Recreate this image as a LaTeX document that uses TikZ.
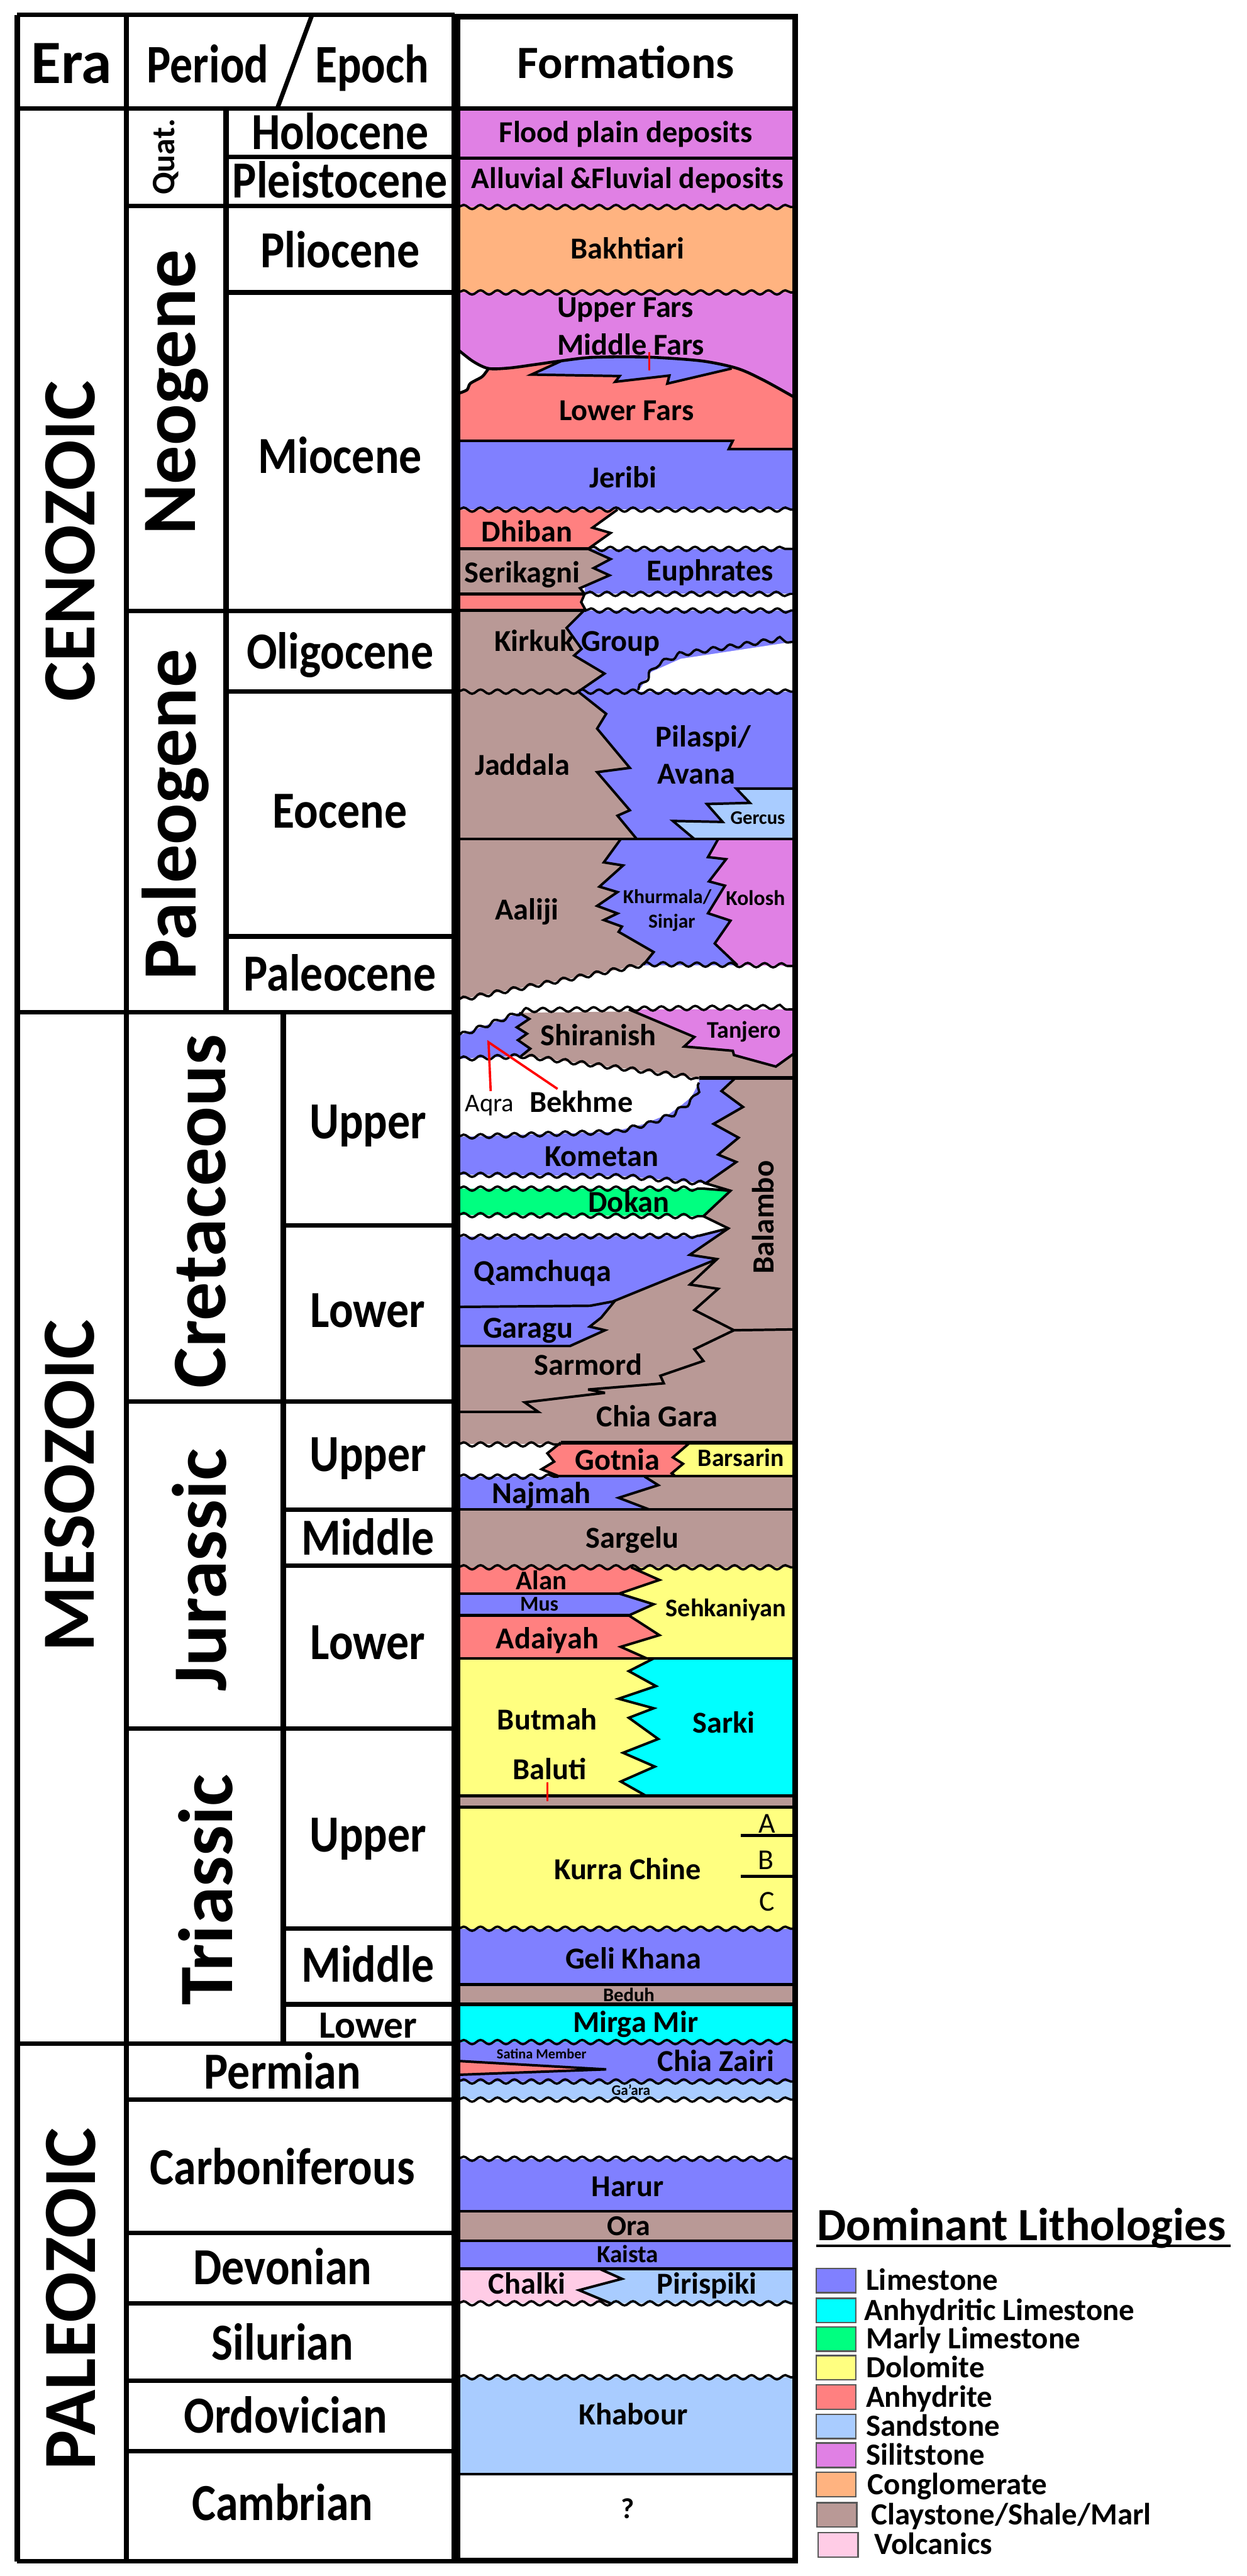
\documentclass[tikz,border=0pt]{standalone}
\usepackage{fontspec}
\setmainfont{Carlito}
\usetikzlibrary{decorations.pathmorphing}
\definecolor{cLime}{RGB}{128,128,255}
\definecolor{cAnhL}{RGB}{0,255,255}
\definecolor{cMarl}{RGB}{0,255,128}
\definecolor{cDolo}{RGB}{255,255,128}
\definecolor{cAnhy}{RGB}{255,128,128}
\definecolor{cSand}{RGB}{169,204,255}
\definecolor{cSilt}{RGB}{224,128,228}
\definecolor{cCong}{RGB}{255,179,128}
\definecolor{cClay}{RGB}{185,153,150}
\definecolor{cVolc}{RGB}{255,204,230}
\newcommand{\fsz}[1]{\fontsize{#1}{#1}\selectfont}
\newcommand{\talltxt}[1]{\scalebox{1}[1.15]{#1}}
\tikzset{
  lb/.style={anchor=base, inner sep=0pt, font=\fsz{#1}\bfseries, yshift={-0.316*#1pt}},
  lb/.default=15.8,
  lr/.style={anchor=base, inner sep=0pt, font=\fsz{#1}, yshift={-0.316*#1pt}},
  tb/.style={anchor=base, inner sep=0pt, font=\fsz{#1}\bfseries, yshift={-0.3634*#1pt}},
  tb/.default=23.5,
  rt/.style={rotate=90, inner sep=0pt, font=\fsz{#1}\bfseries},
  lgt/.style={anchor=base west, inner sep=0pt, font=\fsz{16}\bfseries, yshift=-5.06pt},
  tabh/.style={line width=2.3pt},
  tabv/.style={line width=2.8pt},
  ln/.style={line width=1.5pt, line join=round},
  zz/.style={line width=1.3pt, line join=miter, miter limit=6},
  wv/.style={line width=1.2pt, decorate, decoration={snake, amplitude=1.1pt, segment length=8.8pt}},
  redl/.style={red, line width=1.2pt},
  swatch/.style={draw=black!65, line width=0.8pt},
}
\begin{document}
\begin{tikzpicture}[x=0.03cm,y=-0.03cm]
\useasboundingbox (0,0) rectangle (759,1568);
\fill[white] (0,0) rectangle (759,1568);

%%%%%%%%%%%%%%%% FORMATION FILLS %%%%%%%%%%%%%%%%
\fill[cSilt] (279,66) rectangle (483,126);
\fill[cCong] (279,126) rectangle (483,178);
\fill[cLime] (279,260) rectangle (483,310.2);
\fill[cAnhy] (279,205) -- (483,205) -- (483,273.4) -- (443.6,273.4) -- (446.1,268.3) -- (279,268.3) -- cycle;
\fill[cLime] (323.5,228) -- (342,219.6) -- (342,214) -- (446,214) -- (445.4,224.3) -- (406.2,233.5) -- (407.5,228.6) -- (374.5,232.4) -- (377.2,228.9) -- cycle;
\fill[cSilt] (279,178) -- (483,178) -- (483,241.5) -- plot[smooth,tension=0.5] coordinates {(483,241.5) (465,231.5) (449,224.3) (428,219.8) (400,217.6) (380,217.2) (359,217.6) (342,219.6) (325,222) (310,224) (297.4,224.3) (288,220) (279,213)} -- cycle;
\fill[white] (279,213) -- (288,220) -- (297.4,224.3) -- (296,226.3) -- (293.2,229.5) -- (286.3,233.4) -- (284.3,237.3) -- (279,239.5) -- cycle;
% Dhiban / Serikagni / Euphrates
\fill[cAnhy] (279,310.2) -- (375.9,310.2) -- (360.7,321.2) -- (371.7,324.4) -- (358,334.1) -- (279,334.1) -- cycle;
\fill[cLime] (356,334.1) rectangle (483,361.5);
\fill[cClay] (279,334.1) -- (358,334.1) -- (371.7,340.3) -- (361.4,345.8) -- (371,350.2) -- (353.1,358) -- (355.9,361.5) -- (279,361.5) -- cycle;
\fill[cAnhy] (279,361.5) -- (355.9,361.5) -- (353.8,366.5) -- (356.6,371.6) -- (279,371.6) -- cycle;
% Kirkuk
\fill[cClay] (279,371.6) rectangle (483,421);
\fill[cLime] (355.5,371.6) -- (483,371.6) -- (483,421) -- (352,421) -- (368,410) -- (349.5,399) -- (354,395) -- (344.9,382.2) -- cycle;
\fill[white] (388.5,421) -- (396.5,409) -- (414.4,401) -- (483,390.6) -- (483,421) -- cycle;
% Jaddala / Pilaspi / Gercus
\fill[cClay] (279,421) rectangle (483,510.7);
\fill[cLime] (352,421) -- (483,421) -- (483,510.7) -- (387.6,510.7) -- (375.9,496.5) -- (383.4,493.2) -- (363.5,470) -- (383.4,467.4) -- (363.5,443.5) -- (369,434.5) -- cycle;
\fill[cSand] (448.2,480) -- (483,480) -- (483,510.7) -- (422.7,510.7) -- (409.6,499.7) -- (439.9,500.3) -- (430.3,489.4) -- (456.5,488.7) -- cycle;
% Aaliji / Khurmala / Kolosh
\fill[cLime] (360,510.7) rectangle (450,587.5);
\fill[cClay] (279,510.7) -- (377.9,510.7) -- (367.6,524.9) -- (379.3,526.8) -- (364.9,539.7) -- (375.9,543) -- (363.5,551.4) -- (375.9,556) -- (367.6,560) -- (378.6,564) -- (376.6,567.2) -- (397.9,579.5) -- (391.7,587.2) -- (279,608.6) -- cycle;
\fill[cSilt] (437.2,510.7) -- (483,510.7) -- (483,588) -- (448.9,587.5) -- (435.1,574.3) -- (444.7,560.4) -- (431,555.9) -- (441.3,539.1) -- (431.6,536.5) -- (442,523) -- (431,521.7) -- cycle;
% Shiranish / Aqra / Tanjero
\fill[cClay] (279,630.5) -- (316,616.5) -- (483,614.4) -- (483,656.3) -- (425.5,656.3) -- (400,653) -- (360,648) -- (318,642.8) -- (279,644.5) -- cycle;
\fill[cLime] (279,630.5) -- (316,616.5) -- (322.2,620.2) -- (314.6,625.3) -- (320.8,629.2) -- (315.3,633.1) -- (322.8,638.3) -- (317,643) -- (279,644.5) -- cycle;
\fill[cSilt] (382.8,614.4) -- (483,614.4) -- (483,641.5) -- (472.3,649.2) -- (446.8,642.2) -- (446.1,639.6) -- (416.5,637) -- (422.7,631.2) -- cycle;
% Balambo background and Cretaceous units
\fill[cClay] (279,656.3) rectangle (483,918.8);
\fill[white] (279,644.5) -- (318,642.8) -- (360,648) -- (400,653) -- (425.5,656.3) -- (425.5,659) -- (421,667.7) -- (414.4,673.1) -- (407.5,678) -- (391,684.5) -- (373,689) -- (279,692) -- cycle;
\fill[cLime] (279,692) -- (373,689) -- (391,684.5) -- (407.5,678) -- (414.4,673.1) -- (421,667.7) -- (425.5,659) -- (425.5,656.3) -- (447.5,656.3) -- (439.2,664.1) -- (452.3,673.8) -- (434.4,684.1) -- (449.6,692.5) -- (437.2,702.8) -- (448.2,707.3) -- (429.6,720.3) -- (380,716) -- (279,715) -- cycle;
\fill[white] (279,715) -- (380,716) -- (429.6,720.3) -- (444.7,724.8) -- (428,723.5) -- (279,723.5) -- cycle;
\fill[cMarl] (279,723.5) -- (428,723.5) -- (444.7,724.8) -- (428.2,740.3) -- (279,739.6) -- cycle;
\fill[white] (279,739.6) -- (428.2,740.3) -- (443.4,747.7) -- (425.5,752.2) -- (279,752.8) -- cycle;
\fill[cLime] (279,752.8) -- (425.5,752.2) -- (443.4,747.7) -- (419.9,763.8) -- (436.5,766.4) -- (373.1,792.2) -- (359.3,794.8) -- (279,795.5) -- cycle;
\fill[cLime] (279,795.5) -- (359.3,794.8) -- (374.5,791.6) -- (366,802) -- (359,807.5) -- (368.3,809.7) -- (347,819.3) -- (279,819.3) -- cycle;
% Gotnia / Barsarin / Najmah
\fill[white] (279,879) rectangle (345,898.8);
\fill[cAnhy] (341.4,878.1) -- (420,878.1) -- (409.6,887.1) -- (415.8,891) -- (408.9,896.8) -- (411,898.5) -- (340,898.5) -- (329.7,894.3) -- (337.3,889.7) -- (333.2,884.6) -- cycle;
\fill[cDolo] (420,878.1) -- (483,878.1) -- (483,898.5) -- (411,898.5) -- (408.9,896.8) -- (415.8,891) -- (409.6,887.1) -- cycle;
\fill[cLime] (279,898.8) -- (392.4,898.8) -- (400.7,904) -- (376.6,911.7) -- (395.2,918.8) -- (279,918.8) -- cycle;
\fill[cClay] (279,918.8) rectangle (483,954);
% Alan / Mus / Adaiyah / Sehkaniyan
\fill[cDolo] (279,954) rectangle (483,1009.5);
\fill[cAnhy] (279,954) -- (384.1,954) -- (401.4,961.7) -- (377,970) -- (279,970) -- cycle;
\fill[cLime] (279,970) -- (377,970) -- (397.9,976.5) -- (382.8,983.3) -- (279,983.3) -- cycle;
\fill[cAnhy] (279,983.3) -- (382.8,983.3) -- (401.4,995.3) -- (377.9,1002.4) -- (393.8,1009.5) -- (279,1009.5) -- cycle;
% Butmah / Sarki
\fill[cDolo] (279,1009.5) rectangle (483,1093);
\fill[cAnhL] (397.9,1009.5) -- (483,1009.5) -- (483,1093) -- (393.1,1093) -- (377.9,1084.4) -- (398.6,1075.3) -- (379.3,1066.9) -- (400.7,1058.5) -- (382.8,1045.6) -- (397.9,1039.8) -- (376.6,1034) -- (399.3,1026.3) -- (382.8,1017.2) -- cycle;
\fill[cClay] (279,1093) rectangle (483,1100);
% Triassic and Paleozoic
\fill[cDolo] (279,1100) rectangle (483,1174);
\fill[cLime] (279,1174) rectangle (483,1208);
\fill[cClay] (279,1208) rectangle (483,1220);
\fill[cAnhL] (279,1220) rectangle (483,1243);
\fill[cLime] (279,1243) rectangle (483,1267);
\fill[cAnhy] (279,1254.5) -- (369,1259.6) -- (279,1262.9) -- cycle;
\fill[cSand] (279,1267) rectangle (483,1278);
\fill[cLime] (279,1314) rectangle (483,1346);
\fill[cClay] (279,1346) rectangle (483,1364);
\fill[cLime] (279,1364) rectangle (483,1381);
\fill[cVolc] (279,1381) rectangle (483,1402);
\fill[cSand] (364.9,1381) -- (483,1381) -- (483,1402) -- (371.7,1402) -- (352.5,1394) -- (378.6,1387.1) -- cycle;
\fill[cSand] (279,1447) rectangle (483,1506);

%%%%%%%%%%%%%%%% FORMATION LINES %%%%%%%%%%%%%%%%
\draw[line width=2.4pt] (279,66) -- (483,66);
\draw[ln] (279,96.2) -- (483,96.2);
\draw[wv] (279,126) -- (483,126);
\draw[wv] (279,178) -- (483,178);
\draw[ln] plot[smooth,tension=0.5] coordinates {(483,241.5) (465,231.5) (449,224.3) (428,219.8) (400,217.6) (380,217.2) (359,217.6) (342,219.6) (325,222) (310,224) (297.4,224.3) (288,220) (279,213)};
\draw[zz] (342,219.6) -- (323.5,228) -- (377.2,228.9) -- (374.5,232.4) -- (407.5,228.6) -- (406.2,233.5) -- (445.4,224.3);
\draw[ln] plot[smooth] coordinates {(297.4,224.3) (296,226.3) (293.2,229.5) (286.3,233.4) (284.3,237.3) (279,239.5)};
\draw[zz] (279,268.3) -- (446.1,268.3) -- (443.6,273.4) -- (483,273.4);
\draw[redl] (395.2,214.2) -- (395.2,225.5);
\draw[wv] (279,310.2) -- (483,310.2);
\draw[zz] (375.9,310.2) -- (360.7,321.2) -- (371.7,324.4) -- (358,334.1) -- (371.7,340.3) -- (361.4,345.8) -- (371,350.2) -- (353.1,358) -- (355.9,361.5) -- (353.8,366.5) -- (356.6,371.6);
\draw[ln] (279,334.1) -- (358,334.1);
\draw[ln] (279,361.5) -- (355.9,361.5);
\draw[ln] (279,371.6) -- (356.6,371.6);
\draw[wv] (358,334.1) -- (483,334.1);
\draw[wv] (355.9,361.5) -- (483,361.5);
\draw[wv] (356.6,371.6) -- (483,371.6);
\draw[zz] (355.5,371.6) -- (344.9,382.2) -- (354,395) -- (349.5,399) -- (368,410) -- (352,421);
\draw[wv] (388.5,420) -- (396.5,409) -- (414.4,401) -- (483,390.6);
\draw[wv] (279,421) -- (483,421);
\draw[zz] (352,421) -- (369,434.5) -- (363.5,443.5) -- (383.4,467.4) -- (363.5,470) -- (383.4,493.2) -- (375.9,496.5) -- (387.6,510.7);
\draw[zz] (483,480) -- (448.2,480) -- (456.5,488.7) -- (430.3,489.4) -- (439.9,500.3) -- (409.6,499.7) -- (422.7,510.7);
\draw[ln] (279,510.7) -- (483,510.7);
\draw[zz] (377.9,510.7) -- (367.6,524.9) -- (379.3,526.8) -- (364.9,539.7) -- (375.9,543) -- (363.5,551.4) -- (375.9,556) -- (367.6,560) -- (378.6,564) -- (376.6,567.2) -- (397.9,579.5) -- (391.7,587.2);
\draw[zz] (437.2,510.7) -- (431,521.7) -- (442,523) -- (431.6,536.5) -- (441.3,539.1) -- (431,555.9) -- (444.7,560.4) -- (435.1,574.3) -- (448.9,587.5);
\draw[wv] (279,608.6) -- (391.7,587.2) -- (483,588);
\draw[zz] (316,616.5) -- (322.2,620.2) -- (314.6,625.3) -- (320.8,629.2) -- (315.3,633.1) -- (322.8,638.3) -- (317,643);
\draw[zz] (382.8,614.4) -- (422.7,631.2) -- (416.5,637) -- (446.1,639.6) -- (446.8,642.2) -- (472.3,649.2) -- (483,641.5);
\draw[wv] (279,630.5) -- (316,616.5) -- (483,614.4);
\draw[wv] (279,644.5) -- (318,642.8) -- (360,648) -- (400,653) -- (425.5,656.3);
\draw[line width=2pt] (425.5,656.3) -- (483,656.3);
\draw[zz] (447.5,656.3) -- (439.2,664.1) -- (452.3,673.8) -- (434.4,684.1) -- (449.6,692.5) -- (437.2,702.8) -- (448.2,707.3) -- (429.6,720.3) -- (444.7,724.8) -- (428.2,740.3) -- (443.4,747.7) -- (419.9,763.8) -- (436.5,766.4) -- (420,781.9) -- (437.2,784.5) -- (422.7,797.4) -- (446.8,809.7) -- (483,809.2);
\draw[wv] (279,692) -- (373,689) -- (391,684.5) -- (407.5,678) -- (414.4,673.1) -- (421,667.7) -- (425.5,659);
\draw[wv] (279,715) -- (380,716) -- (429.6,720.3);
\draw[wv] (279,723.5) -- (428,723.5);
\draw[zz] (428,723.5) -- (444.7,724.8);
\draw[wv] (279,739.6) -- (428.2,740.3);
\draw[wv] (279,752.8) -- (425.5,752.2);
\draw[zz] (425.5,752.2) -- (443.4,747.7);
\draw[zz] (436.5,766.4) -- (373.1,792.2) -- (359.3,794.8) -- (279,795.5);
\draw[zz] (374.5,791.6) -- (366,802) -- (359,807.5) -- (368.3,809.7) -- (347,819.3) -- (279,819.3);
\draw[zz] (446.8,809.7) -- (422.7,821.3) -- (428.2,828.4) -- (402,837.4) -- (404.1,842) -- (358,845.8) -- (368.3,847.8) -- (319.4,853.6) -- (327.7,859.4) -- (279,859.4);
\draw[line width=2pt] (341.4,878.1) -- (483,878.1);
\draw[wv] (279,879.2) -- (341.4,879.2);
\draw[zz] (341.4,878.1) -- (333.2,884.6) -- (337.3,889.7) -- (329.7,894.3) -- (340,898.5);
\draw[zz] (420,878.1) -- (409.6,887.1) -- (415.8,891) -- (408.9,896.8) -- (411,898.5);
\draw[wv] (279,898.8) -- (340,898.8);
\draw[ln] (340,898.5) -- (483,898.5);
\draw[zz] (392.4,898.8) -- (400.7,904) -- (376.6,911.7) -- (395.2,918.8);
\draw[ln] (279,918.8) -- (483,918.8);
\draw[wv] (279,954) -- (483,954);
\draw[zz] (384.1,954) -- (401.4,961.7) -- (377,970) -- (397.9,976.5) -- (382.8,983.3) -- (401.4,995.3) -- (377.9,1002.4) -- (393.8,1009.5);
\draw[ln] (279,970) -- (377,970);
\draw[ln] (279,983.3) -- (382.8,983.3);
\draw[ln] (279,1009.5) -- (483,1009.5);
\draw[zz] (397.9,1009.5) -- (382.8,1017.2) -- (399.3,1026.3) -- (376.6,1034) -- (397.9,1039.8) -- (382.8,1045.6) -- (400.7,1058.5) -- (379.3,1066.9) -- (398.6,1075.3) -- (377.9,1084.4) -- (393.1,1093);
\draw[ln] (279,1093) -- (483,1093);
\draw[ln] (279,1100) -- (483,1100);
\draw[redl] (333.2,1085) -- (333.2,1096.5);
\draw[ln] (451,1117.2) -- (483,1117.2);
\draw[ln] (451,1142.1) -- (483,1142.1);
\draw[wv] (279,1174) -- (483,1174);
\draw[line width=1.8pt] (279,1208) -- (483,1208);
\draw[line width=1.8pt] (279,1220) -- (483,1220);
\draw[wv] (279,1243) -- (483,1243);
\draw[zz] (279,1254.5) -- (369,1259.6) -- (279,1262.9);
\draw[wv] (279,1267) -- (483,1267);
\draw[wv] (279,1278) -- (483,1278);
\draw[wv] (279,1314) -- (483,1314);
\draw[ln] (279,1346) -- (483,1346);
\draw[ln] (279,1364) -- (483,1364);
\draw[ln] (279,1381) -- (483,1381);
\draw[zz] (364.9,1381) -- (378.6,1387.1) -- (352.5,1394) -- (371.7,1402);
\draw[wv] (279,1402) -- (483,1402);
\draw[wv] (279,1447) -- (483,1447);
\draw[ln] (279,1506) -- (483,1506);
% red pointer lines (Aqra)
\draw[redl] (298.7,664.1) -- (297.4,634.4) -- (339.4,662.8);
% formation box
\draw[line width=3pt] (278.5,10) rectangle (484,1558.5);

%%%%%%%%%%%%%%%% LEFT TABLE %%%%%%%%%%%%%%%%
\draw[tabv] (10.5,9) -- (10.5,1559);
\draw[tabv] (77,9) -- (77,1559);
\draw[tabv] (137.6,66) -- (137.6,616);
\draw[tabv] (172.4,616) -- (172.4,1244);
\draw[tabv] (276.6,9) -- (276.6,1559);
\draw[tabh] (10.5,9) -- (276.6,9);
\draw[tabh] (10.5,66) -- (276.6,66);
\draw[tabh] (10.5,1559) -- (276.6,1559);
\draw[tabh] (10.5,616) -- (276.6,616);
\draw[tabh] (10.5,1244) -- (276.6,1244);
\draw[tabh] (77,125.5) -- (276.6,125.5);
\draw[tabh] (77,372) -- (276.6,372);
\draw[tabh] (137.6,95.6) -- (276.6,95.6);
\draw[tabh] (137.6,178) -- (276.6,178);
\draw[tabh] (137.6,421) -- (276.6,421);
\draw[tabh] (137.6,570) -- (276.6,570);
\draw[tabh] (77,853) -- (276.6,853);
\draw[tabh] (77,1052) -- (276.6,1052);
\draw[tabh] (172.4,746) -- (276.6,746);
\draw[tabh] (172.4,919) -- (276.6,919);
\draw[tabh] (172.4,953) -- (276.6,953);
\draw[tabh] (172.4,1174) -- (276.6,1174);
\draw[tabh] (172.4,1220) -- (276.6,1220);
\draw[tabh] (77,1278) -- (276.6,1278);
\draw[tabh] (77,1359) -- (276.6,1359);
\draw[tabh] (77,1402) -- (276.6,1402);
\draw[tabh] (77,1449) -- (276.6,1449);
\draw[tabh] (77,1492) -- (276.6,1492);
\draw[tabh] (168.8,66) -- (190,9);

% header texts
\node[lb=32] (hEra) at (43.5,38.7) {Era};
\node[anchor=base, inner sep=0pt, font=\fsz{23.5}\bfseries, yshift=-8.9pt] (hPer) at (126.5,40) {\scalebox{1}[1.2]{Period}};
\node[anchor=base, inner sep=0pt, font=\fsz{23.5}\bfseries, yshift=-8.9pt] (hEpo) at (226.5,40) {\scalebox{1}[1.2]{Epoch}};
\node[lb=24] (hFor) at (381,38.7) {Formations};

% eras
\node[rt=39] (eC) at (42.9,329.3) {CENOZOIC};
\node[rt=39] (eM) at (42.5,904.4) {MESOZOIC};
\node[rt=39] (eP) at (43,1399.5) {PALEOZOIC};
% periods
\node[rt=17] (pQ) at (101,95.5) {Quat.};
\node[rt=40] (pN) at (107.6,238.9) {Neogene};
\node[rt=40] (pPg) at (106.8,495.8) {Paleogene};
\node[rt=40] (pK) at (122,737.3) {Cretaceous};
\node[rt=40] (pJ) at (121.5,955.7) {Jurassic};
\node[rt=40] (pT) at (125,1150.4) {Triassic};
% epochs
\node[tb] (ep1) at (207,81) {\talltxt{Holocene}};
\node[tb] (ep2) at (207,110.5) {\talltxt{Pleistocene}};
\node[tb] (ep3) at (207,153) {\talltxt{Pliocene}};
\node[tb] (ep4) at (207,278) {\talltxt{Miocene}};
\node[tb] (ep5) at (207,397) {\talltxt{Oligocene}};
\node[tb] (ep6) at (207,494) {\talltxt{Eocene}};
\node[tb] (ep7) at (207,593) {\talltxt{Paleocene}};
\node[tb] (ep8) at (224,683) {\talltxt{Upper}};
\node[tb] (ep9) at (224,798) {\talltxt{Lower}};
\node[tb] (ep10) at (224,885.5) {\talltxt{Upper}};
\node[tb] (ep11) at (224,936.5) {\talltxt{Middle}};
\node[tb] (ep12) at (224,1000) {\talltxt{Lower}};
\node[tb] (ep13) at (224,1117) {\talltxt{Upper}};
\node[tb] (ep14) at (224,1196.5) {\talltxt{Middle}};
\node[lb=20] (ep15) at (224,1233) {Lower};
\node[tb] (ep16) at (172,1261.5) {\talltxt{Permian}};
\node[tb] (ep17) at (172,1319.5) {\talltxt{Carboniferous}};
\node[tb] (ep18) at (172,1380.5) {\talltxt{Devonian}};
\node[tb] (ep19) at (172,1426.5) {\talltxt{Silurian}};
\node[tb] (ep20) at (174,1471) {\talltxt{Ordovician}};
\node[tb] (ep21) at (172,1524) {\talltxt{Cambrian}};

%%%%%%%%%%%%%%%% FORMATION LABELS %%%%%%%%%%%%%%%%
\node[lb] (f1) at (381,80.7) {Flood plain deposits};
\node[lb=15.5] (f2) at (382,109) {Alluvial \&Fluvial deposits};
\node[lb] (f3) at (382,151.7) {Bakhtiari};
\node[lb] (f4) at (380.7,187.3) {Upper Fars};
\node[lb] (f5) at (384,210.1) {Middle Fars};
\node[lb] (f6) at (381.4,250.2) {Lower Fars};
\node[lb] (f7) at (379.3,290.9) {Jeribi};
\node[lb] (f8) at (320.8,323.8) {Dhiban};
\node[lb] (f9) at (318,349) {Serikagni};
\node[lb] (f10) at (432.3,347.7) {Euphrates};
\node[lb] (f11) at (351.4,390.6) {Kirkuk Group};
\node[lb] (f12) at (318,466.1) {Jaddala};
\node[lb] (f13) at (428.2,448.7) {Pilaspi/};
\node[lb] (f14) at (423.8,471.3) {Avana};
\node[lb=10] (f15) at (461.3,497.8) {Gercus};
\node[lb] (f16) at (320.8,553.9) {Aaliji};
\node[lb=10.3] (f17) at (406.2,546.2) {Khurmala/};
\node[lb=10.3] (f18) at (409,561) {Sinjar};
\node[lb=11] (f19) at (459.9,546.8) {Kolosh};
\node[lb] (f20) at (364.2,630.5) {Shiranish};
\node[lb=12.4] (f21) at (453,627.3) {Tanjero};
\node[lr=13.3] (f22) at (298,671.8) {Aqra};
\node[lb] (f23) at (353.8,671.2) {Bekhme};
\node[lb] (f24) at (366.2,704.1) {Kometan};
\node[lb] (f25) at (382.8,731.9) {Dokan};
\node[lb] (f26) at (330.4,774.1) {Qamchuqa};
\node[lb] (f27) at (321.5,808.4) {Garagu};
\node[lb] (f28) at (358,831) {Sarmord};
\node[lb] (f29) at (400,862.6) {Chia Gara};
\node[rt=16] (f30) at (464.7,741) {Balambo};
\node[lb] (f31) at (375.9,889.1) {Gotnia};
\node[lb=13] (f32) at (451,887.8) {Barsarin};
\node[lb] (f33) at (329.7,909.1) {Najmah};
\node[lb] (f34) at (384.8,936.5) {Sargelu};
\node[lb=14] (f35) at (329.7,962.3) {Alan};
\node[lb=11] (f36) at (328.3,976.5) {Mus};
\node[lb] (f37) at (333.2,997.8) {Adaiyah};
\node[lb=13.2] (f38) at (442,979.1) {Sehkaniyan};
\node[lb] (f39) at (333.2,1046.9) {Butmah};
\node[lb] (f40) at (334.5,1077.3) {Baluti};
\node[lb] (f41) at (440.6,1048.9) {Sarki};
\node[lr=15] (f42) at (466.8,1110.2) {A};
\node[lr=15] (f43) at (466.1,1132.5) {B};
\node[lr=15] (f44) at (466.8,1157.6) {C};
\node[lb] (f45) at (382,1138.2) {Kurra Chine};
\node[lb] (f46) at (385.5,1192.5) {Geli Khana};
\node[lb=10] (f47) at (382.8,1214.4) {Beduh};
\node[lb] (f48) at (386.9,1231.2) {Mirga Mir};
\node[lb=7.3] (f49) at (329.7,1250.6) {Satina Member};
\node[lb] (f50) at (435.8,1255.1) {Chia Zairi};
\node[lb=7.6] (f51) at (384.1,1272.6) {Ga'ara};
\node[lb] (f52) at (382,1331.2) {Harur};
\node[lb=15] (f53) at (382.8,1355.3) {Ora};
\node[lb=12.8] (f54) at (382,1372.5) {Kaista};
\node[lb] (f55) at (320.8,1390.6) {Chalki};
\node[lb] (f56) at (430.3,1390.6) {Pirispiki};
\node[lb=16] (f57) at (385.5,1469.8) {Khabour};
\node[lb=15] (f58) at (382,1527.5) {?};

%%%%%%%%%%%%%%%% LEGEND %%%%%%%%%%%%%%%%
\node[anchor=base west, inner sep=0pt, font=\fsz{24}\bfseries] (lgT) at (497.3,1363.8) {Dominant Lithologies};
\draw[line width=1.4pt] (497,1367) -- (749,1367);
\fill[cLime, swatch] (496.8,1380.8) rectangle (521.1,1395.6);
\node[lgt] (lg1) at (527,1388.2) {Limestone};
\fill[cAnhL, swatch] (496.8,1399) rectangle (521.1,1413.8);
\node[lgt] (lg2) at (526,1406.4) {Anhydritic Limestone};
\fill[cMarl, swatch] (496.8,1416.4) rectangle (521.1,1431.2);
\node[lgt] (lg3) at (527,1423.8) {Marly Limestone};
\fill[cDolo, swatch] (496.8,1433.8) rectangle (521.1,1448.6);
\node[lgt] (lg4) at (527,1441.2) {Dolomite};
\fill[cAnhy, swatch] (496.8,1451.7) rectangle (521.1,1466.5);
\node[lgt] (lg5) at (527,1459.1) {Anhydrite};
\fill[cSand, swatch] (496.8,1469.5) rectangle (521.1,1484.3);
\node[lgt] (lg6) at (527,1476.9) {Sandstone};
\fill[cSilt, swatch] (496.8,1487.1) rectangle (521.1,1501.9);
\node[lgt] (lg7) at (527,1494.5) {Silitstone};
\fill[cCong, swatch] (496.8,1504.9) rectangle (521.1,1519.7);
\node[lgt] (lg8) at (528,1512.3) {Conglomerate};
\fill[cClay, swatch] (497.3,1523.3) rectangle (521.6,1538.1);
\node[lgt] (lg9) at (530,1530.7) {Claystone/Shale/Marl};
\fill[cVolc, swatch] (498,1541.6) rectangle (522.3,1556.4);
\node[lgt] (lg10) at (532,1549) {Volcanics};
\end{tikzpicture}
\end{document}
